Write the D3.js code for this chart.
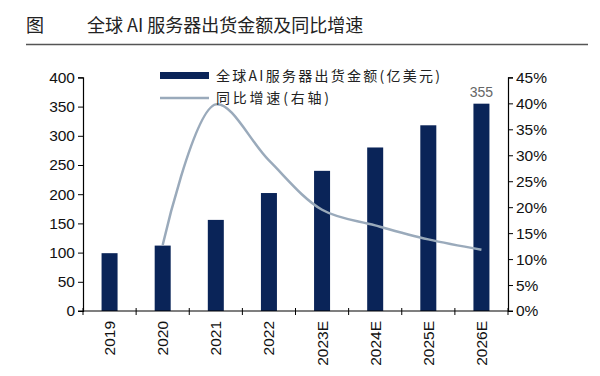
<!DOCTYPE html>
<html>
<head>
<meta charset="utf-8">
<script src="https://cdn.jsdelivr.net/npm/d3@7"></script>
<style>
  body { margin: 0; background: #fff; }
  svg text { font-family: "Liberation Sans", Arial, sans-serif; }
</style>
</head>
<body>
<div class="container"></div>
<script>
const years = ["2019", "2020", "2021", "2022", "2023E", "2024E", "2025E", "2026E"];
const shipments = [99, 112, 156, 202, 240, 280, 318, 355];
const growth = [null, 0.127, 0.398, 0.29, 0.195, 0.165, 0.138, 0.118];
const leftTicks = [0, 50, 100, 150, 200, 250, 300, 350, 400];
const rightTicks = [0, 0.05, 0.10, 0.15, 0.20, 0.25, 0.30, 0.35, 0.40, 0.45];

const w = 600;
const h = 376;
const padLeft = 83, padRight = 508, padTop = 77.4, padBottom = 311;

const svg = d3.select(".container")
  .append("svg")
  .attr("width", w)
  .attr("height", h);

// title
svg.append("text")
  .attr("x", 26).attr("y", 32)
  .style("font-family", "'Noto Sans CJK SC', sans-serif")
  .style("font-size", "18px")
  .attr("fill", "#222")
  .text("图");
svg.append("text")
  .attr("x", 87).attr("y", 32)
  .style("font-family", "'Noto Sans CJK SC', sans-serif")
  .style("font-size", "18px")
  .attr("fill", "#222")
  .text("全球 AI 服务器出货金额及同比增速");
svg.append("line")
  .attr("x1", 26).attr("x2", 588)
  .attr("y1", 44.5).attr("y2", 44.5)
  .attr("stroke", "#555")
  .attr("stroke-width", 1.5);

const xScale = d3.scaleBand()
  .domain(years)
  .range([padLeft, padRight]);

const yScale = d3.scaleLinear()
  .domain([0, 400])
  .range([padBottom, padTop]);

const y2Scale = d3.scaleLinear()
  .domain([0, 0.45])
  .range([padBottom, padTop]);

// bars
const barW = 16;
svg.selectAll("rect.bar")
  .data(years)
  .enter()
  .append("rect")
  .attr("class", "bar")
  .attr("x", (d) => xScale(d) + xScale.bandwidth() / 2 - barW / 2)
  .attr("y", (d, i) => yScale(shipments[i]))
  .attr("width", barW)
  .attr("height", (d, i) => padBottom - yScale(shipments[i]))
  .attr("fill", "#0a2458");

// label on last bar
svg.append("text")
  .attr("x", xScale(years[7]) + xScale.bandwidth() / 2)
  .attr("y", yScale(shipments[7]) - 7)
  .attr("text-anchor", "middle")
  .style("font-size", "14px")
  .attr("fill", "#666")
  .text(shipments[7]);

// growth line
const linePts = years
  .map((d, i) => [xScale(d) + xScale.bandwidth() / 2, growth[i]])
  .filter((p) => p[1] !== null);

svg.append("path")
  .datum(linePts)
  .attr("d", d3.line()
    .x((p) => p[0])
    .y((p) => y2Scale(p[1]))
    .curve(d3.curveCatmullRom.alpha(0.5)))
  .attr("fill", "none")
  .attr("stroke", "#9aaabb")
  .attr("stroke-width", 2.5);

// axes
const yAxis = d3.axisLeft(yScale)
  .tickValues(leftTicks)
  .tickSize(5)
  .tickPadding(3);
const gy = svg.append("g")
  .attr("transform", "translate(" + padLeft + ",0)")
  .call(yAxis);

const y2Axis = d3.axisRight(y2Scale)
  .tickValues(rightTicks)
  .tickFormat(d3.format(".0%"))
  .tickSize(5)
  .tickPadding(3);
const gy2 = svg.append("g")
  .attr("transform", "translate(" + padRight + ",0)")
  .call(y2Axis);

const xAxis = d3.axisBottom(xScale)
  .tickSize(0)
  .tickPadding(0);
const gx = svg.append("g")
  .attr("transform", "translate(0," + padBottom + ")")
  .call(xAxis);

// category boundary ticks
gx.selectAll("line.sep")
  .data(years.concat(["end"]))
  .enter()
  .append("line")
  .attr("class", "sep")
  .attr("x1", (d, i) => padLeft + i * xScale.bandwidth())
  .attr("x2", (d, i) => padLeft + i * xScale.bandwidth())
  .attr("y1", -3)
  .attr("y2", 4)
  .attr("stroke", "#000");

[gx, gy, gy2].forEach((g) => {
  g.select(".domain").attr("stroke", "#000").attr("stroke-width", 1.2);
  g.selectAll(".tick line").attr("stroke", "#000");
  g.selectAll("text")
    .style("font-size", "15.5px")
    .style("font-family", "'Liberation Sans', Arial, sans-serif")
    .attr("fill", "#111");
});
gx.select(".domain").attr("d", "M" + (padLeft - 5) + ",0H" + (padRight + 5));

gx.selectAll(".tick text")
  .attr("transform", "rotate(-90)")
  .attr("text-anchor", "end")
  .attr("x", -10)
  .attr("y", 0)
  .attr("dy", "0.35em");

// legend
const legend = svg.append("g").attr("id", "legend");
legend.append("rect")
  .attr("x", 160).attr("y", 72)
  .attr("width", 49).attr("height", 7)
  .attr("fill", "#0a2458");
legend.append("text")
  .attr("x", 216).attr("y", 81)
  .style("font-family", "'Noto Sans CJK SC', sans-serif")
  .style("font-size", "14px")
  .attr("textLength", 224)
  .attr("lengthAdjust", "spacing")
  .attr("fill", "#222")
  .text("全球AI服务器出货金额(亿美元)");
legend.append("line")
  .attr("x1", 160).attr("x2", 209)
  .attr("y1", 98).attr("y2", 98)
  .attr("stroke", "#9aaabb")
  .attr("stroke-width", 2.5);
legend.append("text")
  .attr("x", 216).attr("y", 103)
  .style("font-family", "'Noto Sans CJK SC', sans-serif")
  .style("font-size", "14px")
  .attr("textLength", 113)
  .attr("lengthAdjust", "spacing")
  .attr("fill", "#222")
  .text("同比增速(右轴)");
</script>
</body>
</html>
